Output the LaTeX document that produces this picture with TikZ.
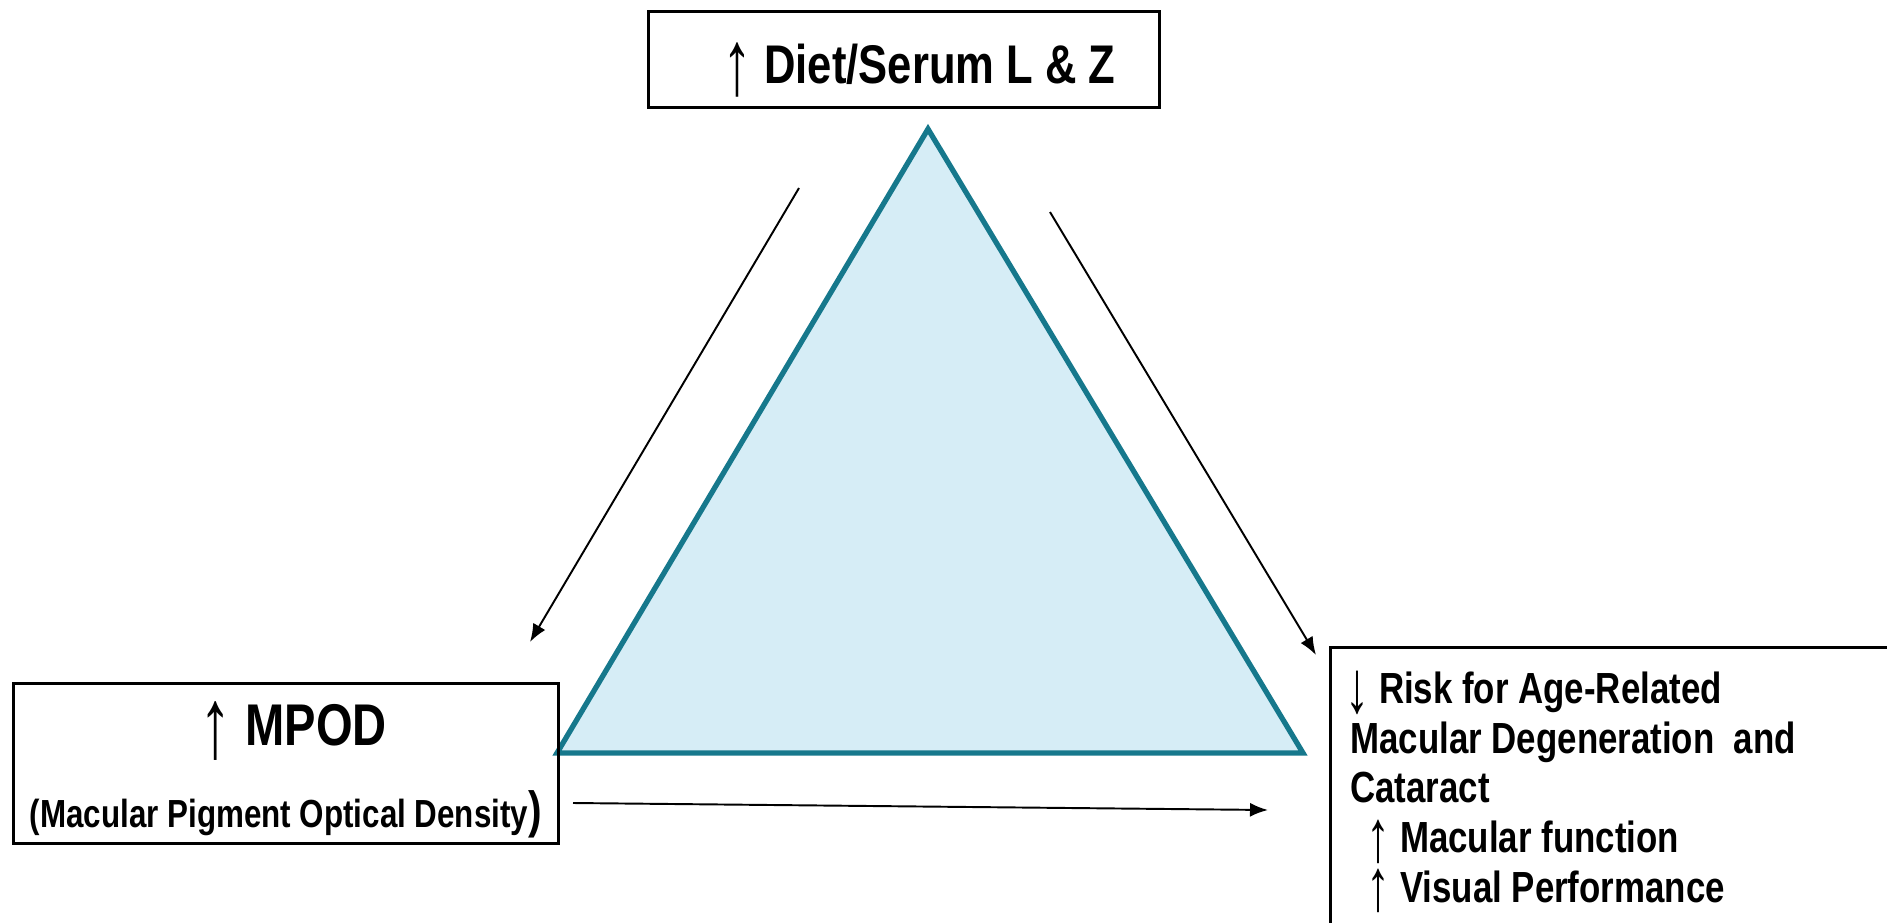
\documentclass[tikz,border=0pt]{standalone}
\usepackage{fontspec}
\setmainfont{Liberation Sans}[FakeStretch=0.8]
\usetikzlibrary{arrows.meta}
\definecolor{triline}{RGB}{22,120,140}
\definecolor{trifill}{RGB}{214,237,246}
\newcommand{\up}{\raisebox{-0.2em}{\resizebox*{0.55em}{1.0em}{\mdseries ↑}}}
\newcommand{\down}{\raisebox{-0.2em}{\resizebox*{0.55em}{1.0em}{\mdseries ↓}}}

\begin{document}
\begin{tikzpicture}[x=0.02cm, y=-0.02cm,
    box/.style={draw, line width=1.6pt, inner sep=0pt, anchor=north west, font=\bfseries},
    flow/.style={line width=1.1pt, -{Latex[length=0.36cm,width=0.28cm]}}]
    \useasboundingbox (0,0) rectangle (1887,923);
    \coordinate (apex) at (928,129);
    \coordinate (bl) at (557,753);
    \coordinate (br) at (1303,753);
    \filldraw[fill=trifill, draw=triline, line width=3pt] (apex) -- (bl) -- (br) -- cycle;
    \node[box] (serum) at (647,10) {\parbox[c][1.92cm][t]{10.22cm}{\centering
      \fontsize{31}{31}\selectfont\hspace*{0.6cm}\rule{0pt}{1.44cm}\up\ Diet/Serum L \& Z}};
    \node[box] (mpod) at (12,682) {\parbox[c][3.2cm][t]{10.9cm}{\centering
      {\fontsize{33.5}{33.5}\selectfont\hspace*{0.3cm}\rule{0pt}{1.24cm}\up\ MPOD\par}
      {\fontsize{22.3}{1.64cm}\selectfont (Macular Pigment Optical Density{\fontsize{29}{29}\selectfont)}\par}}};
    \node[box] (risk) at (1329,646) {\parbox[c][6cm][t]{12cm}{\raggedright
      \leftskip=0.4cm\fontsize{24.8}{28.2}\selectfont
      \hspace*{-0.1cm}\rule{0pt}{1.13cm}\down\ Risk for Age-Related\\
      Macular Degeneration\ \ and\\
      Cataract\\
      \hspace*{0.32cm}\up\ Macular function\\
      \hspace*{0.32cm}\up\ Visual Performance}};
    \coordinate (a1s) at (799,188);
    \coordinate (a1e) at (530,642);
    \coordinate (a2s) at (1050,212);
    \coordinate (a2e) at (1316,655);
    \coordinate (a3s) at (573,803);
    \coordinate (a3e) at (1268,810);
    \draw[flow] (a1s) -- (a1e);
    \draw[flow] (a2s) -- (a2e);
    \draw[flow] (a3s) -- (a3e);
\end{tikzpicture}
\end{document}
